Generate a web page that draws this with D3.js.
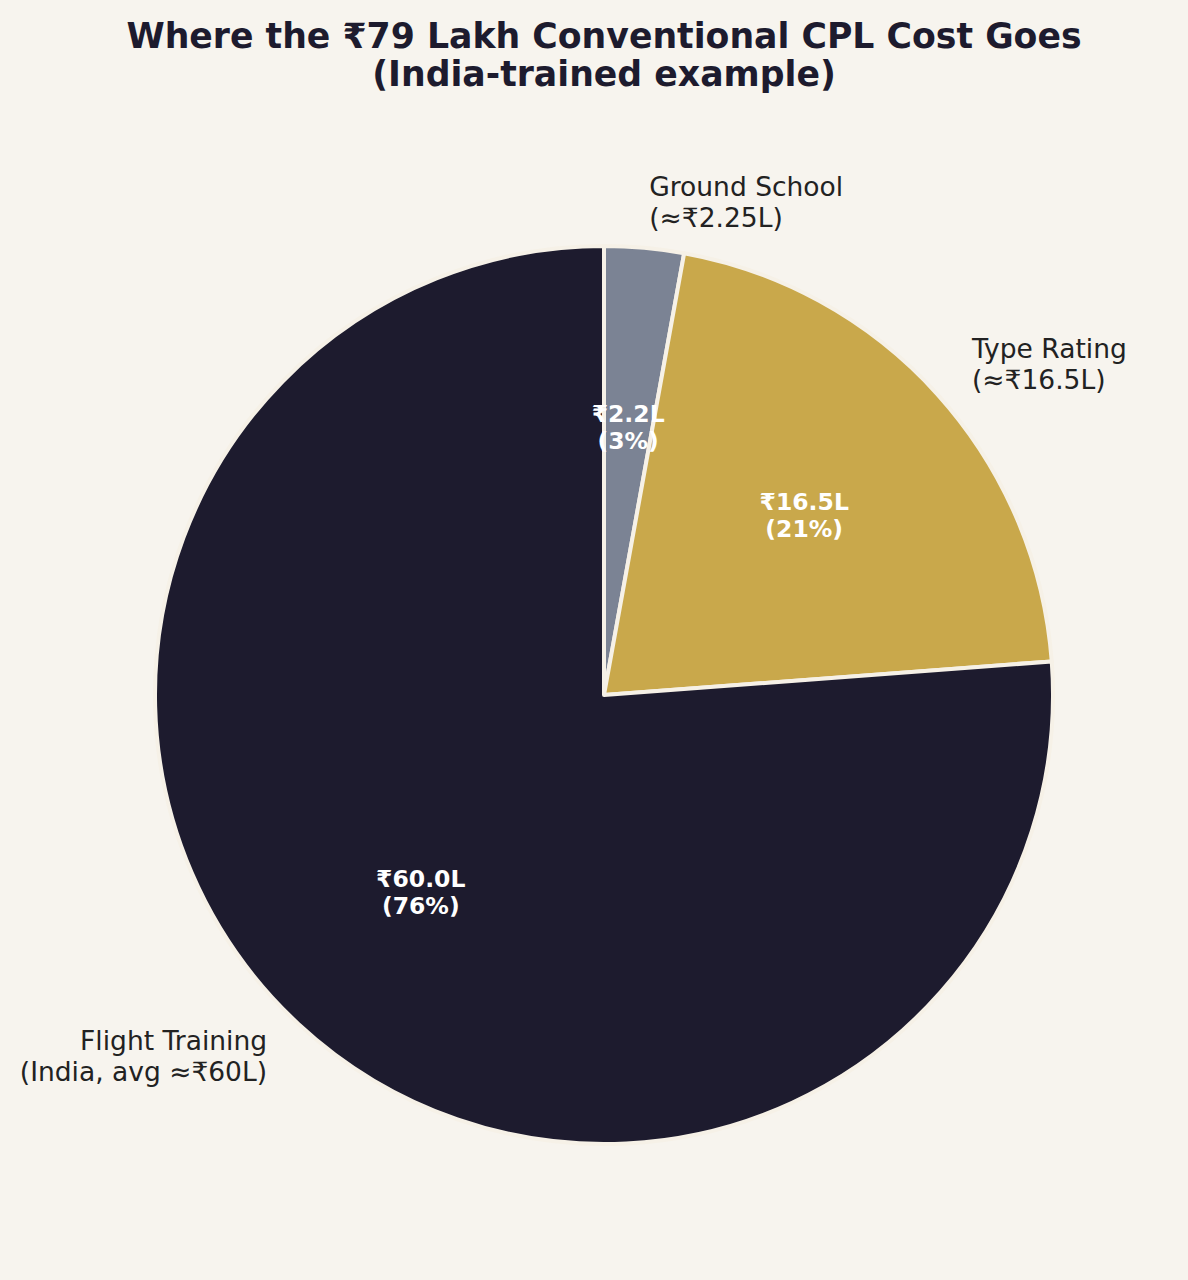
<!DOCTYPE html>
<html>
<head>
<meta charset="utf-8">
<script src="https://cdn.jsdelivr.net/npm/d3@7"></script>
<style>
  body { margin: 0; background: #f7f4ee; }
  svg { display: block; }
</style>
</head>
<body>
<svg id="chart" width="1188" height="1280"></svg>
<script>
const categories = ['Ground School', 'Type Rating', 'Flight Training']
const outerLabels = [['Ground School', '(≈₹2.25L)'], ['Type Rating', '(≈₹16.5L)'], ['Flight Training', '(India, avg ≈₹60L)']]
const costs = [2.25, 16.5, 60]
const valueLabels = ['₹2.2L', '₹16.5L', '₹60.0L']
const colors = ['#7b8394', '#c9a84b', '#1d1b2e']

const svg = d3.select('#chart')
const cx = 604, cy = 695, radius = 449

svg.append('rect').attr('width', 1188).attr('height', 1280).attr('fill', '#f7f4ee')

// title
const title = svg.append('text')
    .attr('x', 604)
    .attr('text-anchor', 'middle')
    .attr('font-family', 'DejaVu Sans')
    .attr('font-weight', 'bold')
    .attr('font-size', 34.7)
    .attr('fill', '#1d1b2e')
title.append('tspan').attr('x', 604).attr('y', 48).text('Where the ₹79 Lakh Conventional CPL Cost Goes')
title.append('tspan').attr('x', 604).attr('y', 86).text('(India-trained example)')

const total = d3.sum(costs)
const pie = d3.pie().sort(null).value(d => d)
const arcs = pie(costs)
const arc = d3.arc().innerRadius(0).outerRadius(radius)

const g = svg.append('g').attr('transform', `translate(${cx},${cy})`)

g.selectAll('path')
    .data(arcs)
    .enter()
    .append('path')
    .attr('d', arc)
    .attr('fill', (d, i) => colors[i])
    .attr('stroke', '#f6f1e7')
    .attr('stroke-width', 4)
    .attr('stroke-linejoin', 'round')

const mid = d => (d.startAngle + d.endAngle) / 2

// outer labels at 1.1 r
arcs.forEach((d, i) => {
    const a = mid(d)
    const x = Math.sin(a) * radius * 1.1
    const y = -Math.cos(a) * radius * 1.1
    const t = g.append('text')
        .attr('font-family', 'DejaVu Sans')
        .attr('font-size', 26.5)
        .attr('fill', '#222222')
        .attr('text-anchor', x >= 0 ? 'start' : 'end')
    outerLabels[i].forEach((line, k) => {
        t.append('tspan')
            .attr('x', x + (x >= 0 ? 1 : -1))
            .attr('y', y - 7 + k * 31)
            .text(line)
    })
})

// inner value labels at 0.6 r
arcs.forEach((d, i) => {
    const a = mid(d)
    const x = Math.sin(a) * radius * 0.6
    const y = -Math.cos(a) * radius * 0.6
    const pct = Math.round(costs[i] / total * 100)
    const t = g.append('text')
        .attr('font-family', 'DejaVu Sans')
        .attr('font-weight', 'bold')
        .attr('font-size', 23.5)
        .attr('fill', '#ffffff')
        .attr('text-anchor', 'middle')
    t.append('tspan').attr('x', x).attr('y', y - 5).text(valueLabels[i])
    t.append('tspan').attr('x', x).attr('y', y + 22).text(`(${pct}%)`)
})
</script>
</body>
</html>
